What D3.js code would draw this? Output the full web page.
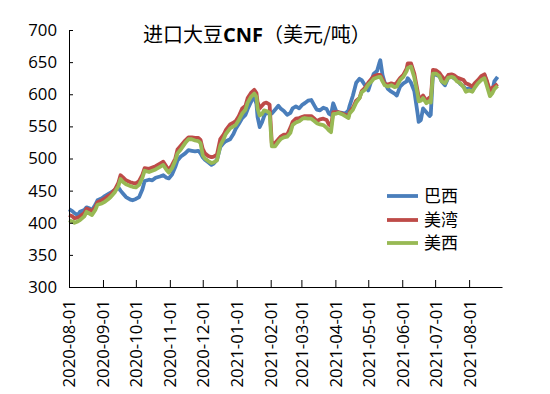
<!DOCTYPE html>
<html>
<head>
<meta charset="utf-8">
<script src="https://cdn.jsdelivr.net/npm/d3@7"></script>
<style>
  body { margin: 0; background: #fff; }
  .axis text { font-family: "Open Sans", sans-serif; font-size: 16.8px; fill: #000; }
  .axis path, .axis line { stroke: #000; stroke-width: 1; }
  .title { font-family: "Noto Sans CJK SC", sans-serif; font-size: 20px; fill: #000; }
  .legend text { font-family: "Noto Sans CJK SC", sans-serif; font-size: 17px; fill: #000; }
</style>
</head>
<body>
<div id="graph"></div>
<script>
const dates = [
  "2020-08-01","2020-08-04","2020-08-06","2020-08-09","2020-08-11","2020-08-15","2020-08-17","2020-08-20","2020-08-22","2020-08-25",
  "2020-08-27","2020-08-31","2020-09-03","2020-09-06","2020-09-08","2020-09-12","2020-09-15","2020-09-17","2020-09-19","2020-09-22",
  "2020-09-26","2020-09-28","2020-10-01","2020-10-04","2020-10-07","2020-10-09","2020-10-13","2020-10-16","2020-10-19","2020-10-23",
  "2020-10-26","2020-10-29","2020-10-31","2020-11-03","2020-11-06","2020-11-08","2020-11-11","2020-11-15","2020-11-18","2020-11-21",
  "2020-11-24","2020-11-27","2020-11-29","2020-12-01","2020-12-03","2020-12-06","2020-12-09","2020-12-11","2020-12-14","2020-12-17",
  "2020-12-20","2020-12-22","2020-12-26","2020-12-29","2020-12-31","2021-01-03","2021-01-06","2021-01-09","2021-01-11","2021-01-14",
  "2021-01-17","2021-01-19","2021-01-20","2021-01-22","2021-01-24","2021-01-26","2021-01-28","2021-01-30","2021-01-31","2021-02-02",
  "2021-02-05","2021-02-08","2021-02-10","2021-02-13","2021-02-16","2021-02-19","2021-02-21","2021-02-24","2021-02-27","2021-03-02",
  "2021-03-04","2021-03-07","2021-03-10","2021-03-13","2021-03-15","2021-03-18","2021-03-21","2021-03-24","2021-03-26","2021-03-28",
  "2021-03-30","2021-04-02","2021-04-04","2021-04-07","2021-04-10","2021-04-13","2021-04-14","2021-04-17","2021-04-20","2021-04-23",
  "2021-04-25","2021-04-28","2021-05-01","2021-05-04","2021-05-06","2021-05-09","2021-05-11","2021-05-12","2021-05-14","2021-05-16",
  "2021-05-19","2021-05-22","2021-05-25","2021-05-27","2021-05-30","2021-06-02","2021-06-05","2021-06-06","2021-06-09","2021-06-12",
  "2021-06-15","2021-06-16","2021-06-18","2021-06-20","2021-06-23","2021-06-26","2021-06-27","2021-06-29","2021-07-02","2021-07-05",
  "2021-07-07","2021-07-10","2021-07-13","2021-07-16","2021-07-18","2021-07-21","2021-07-24","2021-07-27","2021-07-29","2021-08-01",
  "2021-08-04","2021-08-06","2021-08-09","2021-08-12","2021-08-15","2021-08-17","2021-08-20","2021-08-22","2021-08-24","2021-08-27"
];

// 巴西
const brazil = [
  421,418,415,412,417,420,424,422,420,428, 435,438,442,445,447,451,455,450,446,440,
  436,435,437,440,452,465,467,466,470,472, 474,470,469,475,487,497,503,508,513,512,
  511,512,508,502,498,494,490,492,498,518, 524,527,530,538,546,554,563,568,577,588,
  597,585,565,549,556,566,572,570,572,570, 576,582,578,574,568,571,578,581,578,584,
  586,590,591,582,576,575,579,577,570,568, 586,573,572,571,570,575,582,598,618,624,
  622,614,606,622,632,636,648,653,630,618, 608,604,601,598,612,617,620,625,618,605,
  570,557,560,578,572,566,568,632,630,628, 620,614,626,627,625,622,616,612,608,609,
  605,612,620,626,630,620,602,604,620,627
];

// 美湾
const usGulf = [
  412,410,407,408,410,415,422,420,418,424, 432,435,438,442,444,452,462,474,471,466,
  463,462,461,465,475,485,484,486,488,492, 495,487,482,490,500,514,520,528,533,533,
  532,532,529,515,508,504,502,503,506,530, 537,544,553,556,558,566,578,582,594,602,
  607,602,588,578,582,586,587,585,584,524, 524,530,534,537,537,548,557,562,563,565,
  566,566,566,562,558,561,562,560,553,550, 572,572,572,570,568,566,572,579,590,594,
  605,610,618,624,628,630,630,630,624,616, 615,617,615,618,625,630,640,648,648,632,
  605,596,594,598,590,595,592,638,637,633, 628,622,630,631,630,626,624,622,617,615,
  612,617,622,628,631,622,605,610,612,616
];

// 美西
const usWest = [
  404,402,400,402,404,410,417,414,412,420, 428,430,433,437,440,448,457,468,464,460,
  457,456,455,459,470,481,479,481,483,487, 490,482,478,485,497,508,514,524,530,530,
  528,527,524,505,500,496,493,494,497,520, 530,538,547,550,552,560,570,576,587,596,
  601,596,578,567,569,575,574,572,571,519, 519,526,530,533,534,540,552,556,558,562,
  563,562,562,558,555,553,552,548,544,541, 569,570,571,569,566,563,570,576,587,594,
  603,607,615,620,624,626,627,627,620,614, 612,614,611,612,622,627,636,641,643,626,
  600,589,590,594,586,590,587,632,632,628, 620,617,626,627,626,620,617,611,604,606,
  604,610,617,622,625,614,597,601,608,613
];

const seriesNames = ["巴西", "美湾", "美西"];
const seriesColors = ["#4a7ebb", "#be4b48", "#98b954"];
const yTicks = [300, 350, 400, 450, 500, 550, 600, 650, 700];
const monthTicks = ["2020-08-01","2020-09-01","2020-10-01","2020-11-01","2020-12-01","2021-01-01","2021-02-01",
  "2021-03-01","2021-04-01","2021-05-01","2021-06-01","2021-07-01","2021-08-01"];

const W = 550, H = 394;
const plot = {left: 69, right: 502, top: 30, bottom: 287};

const parseDate = d3.timeParse("%Y-%m-%d");
const fmt = d3.timeFormat("%Y-%m-%d");

const svg = d3.select("#graph").append("svg")
  .attr("width", W)
  .attr("height", H);

const x = d3.scaleTime()
  .domain([parseDate("2020-08-01"), parseDate("2021-08-31")])
  .range([plot.left, plot.right]);

const y = d3.scaleLinear()
  .domain([300, 700])
  .range([plot.bottom, plot.top]);

// title
const title = svg.append("text")
  .attr("class", "title")
  .attr("x", 143)
  .attr("y", 42);
title.append("tspan").text("进口大豆");
title.append("tspan").style("font-weight", "bold").style("font-family", "'Open Sans', sans-serif").text("CNF");
title.append("tspan").text("（美元/吨）");

// lines
const allSeries = [brazil, usGulf, usWest];
const line = d3.line()
  .x((d) => x(d.date))
  .y((d) => y(d.value));

allSeries.forEach((vals, i) => {
  const pts = dates.map((d, j) => ({date: parseDate(d), value: vals[j]}));
  svg.append("path")
    .datum(pts)
    .attr("fill", "none")
    .attr("stroke", seriesColors[i])
    .attr("stroke-width", 3.8)
    .attr("stroke-linejoin", "round")
    .attr("d", line);
});

// axes
const yAxis = d3.axisLeft(y)
  .tickValues(yTicks)
  .tickSizeInner(-4)
  .tickSizeOuter(0)
  .tickPadding(12);

svg.append("g")
  .attr("class", "axis")
  .attr("transform", "translate(" + plot.left + ",0)")
  .call(yAxis);

const xAxis = d3.axisBottom(x)
  .tickValues(monthTicks.map(parseDate))
  .tickFormat(fmt)
  .tickSizeInner(-7)
  .tickSizeOuter(0);

const gx = svg.append("g")
  .attr("class", "axis")
  .attr("transform", "translate(0," + plot.bottom + ")")
  .call(xAxis);

gx.selectAll("text")
  .attr("transform", "rotate(-90)")
  .attr("x", -13)
  .attr("y", 0)
  .attr("dy", "0.35em")
  .style("text-anchor", "end");

// legend
const legend = svg.append("g").attr("class", "legend");
const legendY = [196, 220, 243];
seriesNames.forEach((name, i) => {
  legend.append("line")
    .attr("x1", 387).attr("x2", 418)
    .attr("y1", legendY[i]).attr("y2", legendY[i])
    .attr("stroke", seriesColors[i])
    .attr("stroke-width", 3.8);
  legend.append("text")
    .attr("x", 424)
    .attr("y", legendY[i])
    .attr("dy", "0.36em")
    .text(name);
});
</script>
</body>
</html>
